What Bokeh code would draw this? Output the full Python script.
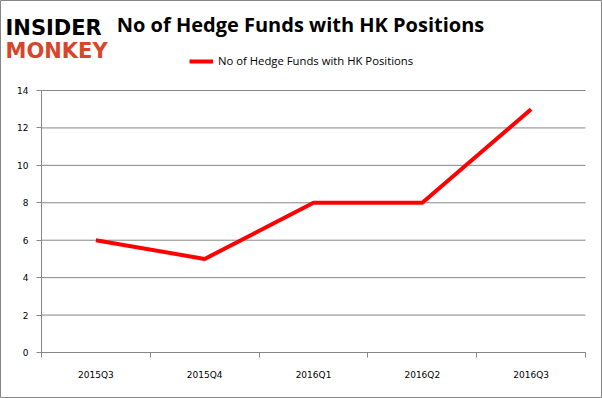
from bokeh.plotting import figure
from bokeh.models import Range1d, FixedTicker, Label, Legend, LegendItem
from bokeh.embed import file_html
from bokeh.resources import INLINE

quarters = ["2015Q3", "2015Q4", "2016Q1", "2016Q2", "2016Q3"]
funds = [6, 5, 8, 8, 13]
y_ticks = [0, 2, 4, 6, 8, 10, 12, 14]
series_name = "No of Hedge Funds with HK Positions"
title_text = "No of Hedge Funds with HK Positions"

W, H = 602, 398
# plot area inside the canvas (pixels)
L, R, T, B = 41, 585, 90, 352
y_max = y_ticks[-1]
n = len(quarters)

xs = [i + 0.5 for i in range(n)]

px_x = (R - L) / n
px_y = (B - T) / y_max
x_range = Range1d(-L / px_x, n + (W - R) / px_x)
y_range = Range1d(-(H - B) / px_y, y_max + T / px_y)

p = figure(width=W, height=H, output_backend="svg", toolbar_location=None,
           x_range=x_range, y_range=y_range,
           min_border=0, min_border_left=0, min_border_right=0,
           min_border_top=0, min_border_bottom=0)
gray = "#868686"
p.outline_line_color = gray
p.background_fill_color = "white"
p.border_fill_color = "white"
p.grid.visible = False

# gridlines
p.segment(x0=0, x1=n, y0=y_ticks, y1=y_ticks, line_color=gray, line_width=1)

# x axis
p.xaxis.fixed_location = 0
p.xaxis.bounds = (0, n)
p.xaxis.ticker = FixedTicker(ticks=xs, minor_ticks=list(range(n + 1)))
p.xaxis.major_label_overrides = {x: q for x, q in zip(xs, quarters)}
p.xaxis.major_tick_out = 0
p.xaxis.major_tick_in = 0
p.xaxis.minor_tick_out = 5
p.xaxis.minor_tick_in = 0
p.xaxis.minor_tick_line_color = gray
p.xaxis.axis_line_color = gray
p.xaxis.major_label_text_font = "DejaVu Sans"
p.xaxis.major_label_text_font_size = "9px"
p.xaxis.major_label_text_color = "black"
p.xaxis.major_label_standoff = 12

# y axis
p.yaxis.fixed_location = 0
p.yaxis.bounds = (0, y_max)
p.yaxis.ticker = FixedTicker(ticks=y_ticks, minor_ticks=[])
p.yaxis.major_tick_out = 5
p.yaxis.major_tick_in = 0
p.yaxis.major_tick_line_color = gray
p.yaxis.axis_line_color = gray
p.yaxis.major_label_text_font = "DejaVu Sans"
p.yaxis.major_label_text_font_size = "9px"
p.yaxis.major_label_text_color = "black"
p.yaxis.major_label_standoff = 8

r = p.line(xs, funds, line_color="#ff0000", line_width=4)

legend = Legend(items=[LegendItem(label=series_name, renderers=[r])],
                location=(189, H - 68), orientation="horizontal",
                padding=0, margin=0, border_line_color=None, background_fill_alpha=0,
                glyph_width=24, glyph_height=12, label_height=12, label_standoff=5,
                label_text_font="Open Sans", label_text_font_size="11.3px",
                label_text_color="black")
p.add_layout(legend, "center")

# title
p.add_layout(Label(x=300, y=H - 24, x_units="screen", y_units="screen", text=title_text,
                   text_align="center", text_baseline="middle", text_font="Open Sans",
                   text_font_style="bold", text_font_size="20px", text_color="black"))
# logo
p.add_layout(Label(x=5, y=H - 27, x_units="screen", y_units="screen", text="INSIDER",
                   text_font="DejaVu Sans", text_font_style="bold", text_font_size="21px",
                   text_color="black", text_baseline="alphabetic"))
p.add_layout(Label(x=5, y=H - 50, x_units="screen", y_units="screen", text="MONKEY",
                   text_font="DejaVu Sans", text_font_style="bold", text_font_size="21px",
                   text_color="#d9452b", text_baseline="alphabetic"))

html = file_html(p, INLINE)
html = html.replace("</head>", "<style>html,body{margin:0;padding:0;overflow:hidden}</style></head>", 1)
open("out.html", "w").write(html)
